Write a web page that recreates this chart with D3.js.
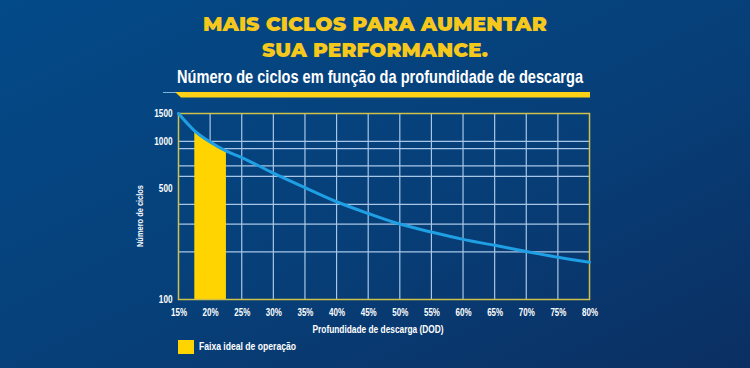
<!DOCTYPE html>
<html>
<head>
<meta charset="utf-8">
<script src="https://cdn.jsdelivr.net/npm/d3@7"></script>
<style>
  body { margin: 0; background: #0a3d75; }
  svg { display: block; }
  .tick text { font-family: "Liberation Sans", Arial, sans-serif; font-weight: bold; fill: #fff; }
</style>
</head>
<body>
<svg id="chart" width="750" height="368"></svg>
<script>
// data
const dod = [15, 17.5, 20, 22.5, 25, 30, 35, 40, 45, 50, 55, 60, 65, 70, 75, 80];
const cycles = [1500, 1170, 990, 870, 790, 630, 510, 415, 350, 300, 267, 240, 220, 201, 185, 172];
const xTicks = [15, 20, 25, 30, 35, 40, 45, 50, 55, 60, 65, 70, 75, 80];
const yLabels = [100, 500, 1000, 1500];
const yGrid = [200, 300, 400, 600, 700, 900, 1000];
const idealBand = [17.5, 22.5];

const width = 750, height = 368;
const svg = d3.select('#chart');
const narrow = '"Liberation Sans", Arial, sans-serif';

// background
const defs = svg.append('defs');
const bg = defs.append('linearGradient').attr('id', 'bg')
    .attr('x1', 0).attr('y1', 0).attr('x2', 1).attr('y2', 1);
bg.append('stop').attr('offset', '0%').attr('stop-color', '#034a88');
bg.append('stop').attr('offset', '55%').attr('stop-color', '#073f78');
bg.append('stop').attr('offset', '100%').attr('stop-color', '#0b2f62');
svg.append('rect').attr('width', width).attr('height', height).attr('fill', 'url(#bg)');

// titles
const title = svg.append('text')
    .attr('text-anchor', 'middle')
    .attr('fill', '#f6c81c')
    .style('font-family', 'Montserrat, Lato, "Open Sans", sans-serif')
    .style('font-weight', 900)
    .style('font-size', '20px');
title.append('tspan').attr('x', 375).attr('y', 31)
    .attr('textLength', 344).attr('lengthAdjust', 'spacingAndGlyphs')
    .text('MAIS CICLOS PARA AUMENTAR');
title.append('tspan').attr('x', 375).attr('y', 57)
    .attr('textLength', 226).attr('lengthAdjust', 'spacingAndGlyphs')
    .text('SUA PERFORMANCE.');

svg.append('text')
    .attr('x', 380).attr('y', 83)
    .attr('text-anchor', 'middle')
    .attr('fill', '#fff')
    .attr('textLength', 406).attr('lengthAdjust', 'spacingAndGlyphs')
    .style('font-family', narrow)
    .style('font-weight', 'bold')
    .style('font-size', '19px')
    .text('Número de ciclos em função da profundidade de descarga');

// underline bar
svg.append('line').attr('x1', 163).attr('x2', 178).attr('y1', 92.5).attr('y2', 92.5)
    .attr('stroke', '#7fb2e0').attr('stroke-width', 1);
svg.append('polygon')
    .attr('points', '175,92 590,92 590,97.5 181,97.5')
    .attr('fill', '#fcd116');

// chart area
const margin = { left: 178.5, right: 589.5, top: 113.5, bottom: 299.5 };
const x = d3.scaleLinear().domain([15, 80]).range([margin.left, margin.right]);
const y = d3.scaleLog().domain([100, 1500]).range([margin.bottom, margin.top]);

// grid
svg.append('g').selectAll('line').data(xTicks.slice(1, -1)).join('line')
    .attr('x1', d => x(d)).attr('x2', d => x(d))
    .attr('y1', margin.top).attr('y2', margin.bottom)
    .attr('stroke', '#a8c7e8').attr('stroke-width', 1.2);
svg.append('g').selectAll('line').data(yGrid).join('line')
    .attr('x1', margin.left).attr('x2', margin.right)
    .attr('y1', d => y(d)).attr('y2', d => y(d))
    .attr('stroke', '#a8c7e8').attr('stroke-width', 1.2);

// ideal operation band, top follows the curve
const bandData = d3.range(idealBand[0], idealBand[1] + 0.01, 0.25);
const interp = (v) => {
  const i = d3.bisectRight(dod, v) - 1;
  const j = Math.min(i + 1, dod.length - 1);
  if (i === j) return cycles[i];
  const t = (v - dod[i]) / (dod[j] - dod[i]);
  return Math.exp(Math.log(cycles[i]) * (1 - t) + Math.log(cycles[j]) * t);
};
svg.append('path')
    .datum(bandData)
    .attr('fill', '#ffd400')
    .attr('d', d3.area().x(d => x(d)).y0(margin.bottom).y1(d => y(interp(d)) + 1));

// border
svg.append('rect')
    .attr('x', margin.left).attr('y', margin.top)
    .attr('width', margin.right - margin.left).attr('height', margin.bottom - margin.top)
    .attr('fill', 'none').attr('stroke', '#cfc14a').attr('stroke-width', 1.5);

// curve
svg.append('path')
    .datum(dod.map((d, i) => [d, cycles[i]]))
    .attr('fill', 'none')
    .attr('stroke', '#1f9fe4')
    .attr('stroke-width', 3)
    .attr('stroke-linecap', 'round')
    .attr('d', d3.line().x(d => x(d[0])).y(d => y(d[1])).curve(d3.curveMonotoneX));

// axes (labels squeezed to look condensed)
const xAxis = svg.append('g')
    .attr('transform', `translate(0, ${margin.bottom})`)
    .call(d3.axisBottom(x).tickValues(xTicks).tickFormat(d => d + '%').tickSize(0).tickPadding(9));
xAxis.select('.domain').remove();
xAxis.selectAll('text').style('font-size', '10px').attr('transform', 'scale(0.8,1)');

const yAxis = svg.append('g')
    .attr('transform', `translate(${margin.left - 6}, 0)`)
    .call(d3.axisLeft(y).tickValues(yLabels).tickFormat(d3.format('d')).tickSize(0).tickPadding(0));
yAxis.select('.domain').remove();
yAxis.selectAll('text').style('font-size', '10px').attr('dy', '0.3em').attr('transform', 'scale(0.82,1)');

// axis titles
svg.append('text')
    .attr('x', 378).attr('y', 333)
    .attr('text-anchor', 'middle')
    .attr('fill', '#fff')
    .attr('textLength', 131).attr('lengthAdjust', 'spacingAndGlyphs')
    .style('font-family', narrow)
    .style('font-weight', 'bold')
    .style('font-size', '10px')
    .text('Profundidade de descarga (DOD)');

svg.append('text')
    .attr('transform', 'translate(143, 216) rotate(-90)')
    .attr('text-anchor', 'middle')
    .attr('fill', '#fff')
    .attr('textLength', 62).attr('lengthAdjust', 'spacingAndGlyphs')
    .style('font-family', narrow)
    .style('font-weight', 'bold')
    .style('font-size', '9px')
    .text('Número de ciclos');

// legend
svg.append('rect').attr('x', 178).attr('y', 340).attr('width', 16).attr('height', 14).attr('fill', '#ffd400');
svg.append('text')
    .attr('x', 199).attr('y', 350)
    .attr('fill', '#fff')
    .attr('textLength', 97).attr('lengthAdjust', 'spacingAndGlyphs')
    .style('font-family', narrow)
    .style('font-weight', 'bold')
    .style('font-size', '10px')
    .text('Faixa ideal de operação');
</script>
</body>
</html>
